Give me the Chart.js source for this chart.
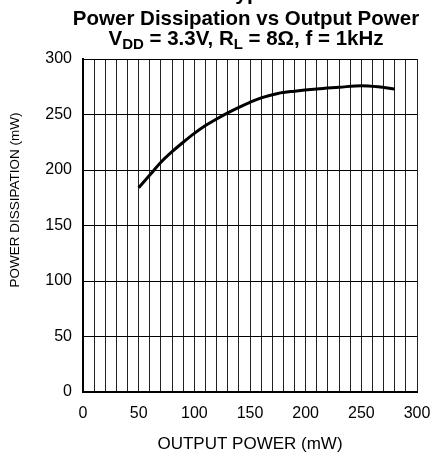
<!DOCTYPE html>
<html>
<head>
<meta charset="utf-8">
<script src="https://cdn.jsdelivr.net/npm/chart.js@4/dist/chart.umd.min.js"></script>
<style>
html,body{margin:0;padding:0;background:#fff;}
#wrap{width:432px;height:460px;position:relative;}
</style>
</head>
<body>
<div id="wrap"><canvas id="c" width="432" height="460"></canvas></div>
<script>
const outputPower = [50, 60, 70, 80, 90, 100, 110, 120, 130, 140, 150, 160, 175, 190, 210, 230, 250, 265, 280];
const powerDissipation = [184, 195.5, 207, 216.5, 225, 233, 240, 246, 251.5, 256.5, 261, 265, 269, 271, 273, 274.5, 276, 275, 273];
const xTickLabels = [0, 50, 100, 150, 200, 250, 300];
const yTickLabels = [0, 50, 100, 150, 200, 250, 300];
const titleTop = "Typical Performance Characteristics";
const titleLine1 = "Power Dissipation vs Output Power";
const titleLine2Parts = [["V", false], ["DD", true], [" = 3.3V, R", false], ["L", true], [" = 8Ω, f = 1kHz", false]];
const yAxisTitle = "POWER DISSIPATION (mW)";
const xAxisTitle = "OUTPUT POWER (mW)";

const FONT = "'Liberation Sans', Arial, sans-serif";

const titlePlugin = {
  id: 'titles',
  afterDraw(chart) {
    const ctx = chart.ctx;
    const area = chart.chartArea;
    const cx = (area.left + area.right) / 2 - 4;
    ctx.save();
    ctx.fillStyle = '#000';
    ctx.textBaseline = 'alphabetic';
    ctx.font = 'bold 21px ' + FONT;
    ctx.textAlign = 'left';
    ctx.fillText(titleTop, 224, 0);
    ctx.font = 'bold 20.5px ' + FONT;
    ctx.textAlign = 'center';
    ctx.fillText(titleLine1, cx, 25);
    // line 2 with subscripts
    const big = 'bold 20.5px ' + FONT, small = 'bold 15px ' + FONT;
    let total = 0;
    for (const [t, sub] of titleLine2Parts) { ctx.font = sub ? small : big; total += ctx.measureText(t).width; }
    let x = cx - total / 2;
    ctx.textAlign = 'left';
    for (const [t, sub] of titleLine2Parts) {
      ctx.font = sub ? small : big;
      ctx.fillText(t, x, sub ? 48.5 : 45);
      x += ctx.measureText(t).width;
    }
    // y axis title
    ctx.translate(15, 200);
    ctx.rotate(-Math.PI / 2);
    ctx.font = '13.5px ' + FONT;
    ctx.textAlign = 'center';
    ctx.textBaseline = 'middle';
    ctx.fillText(yAxisTitle, 0, 0);
    ctx.restore();
  }
};

new Chart(document.getElementById('c'), {
  type: 'scatter',
  data: {
    datasets: [{
      data: outputPower.map((x, i) => ({x, y: powerDissipation[i]})),
      showLine: true,
      borderColor: '#000',
      borderWidth: 3,
      pointRadius: 0,
      cubicInterpolationMode: 'monotone',
      fill: false
    }]
  },
  options: {
    responsive: false,
    animation: false,
    devicePixelRatio: 1,
    layout: { padding: { top: 59, right: 0, left: 0, bottom: 0 } },
    plugins: { legend: { display: false }, tooltip: { enabled: false }, title: { display: false } },
    scales: {
      x: {
        type: 'linear', min: 0, max: 300,
        afterFit(s) { s.height = 68; s.paddingRight = 15; s.paddingLeft = 0; },
        afterBuildTicks(s) { const t = []; for (let v = 0; v <= 300; v += 10) t.push({value: v}); s.ticks = t; },
        ticks: {
          autoSkip: false, maxRotation: 0, padding: 12, color: '#000',
          font: { family: FONT, size: 16 },
          callback: v => xTickLabels.includes(v) ? String(v) : ''
        },
        grid: { color: '#222', lineWidth: 1, drawTicks: false },
        border: { color: '#000', width: 2 },
        title: { display: true, text: xAxisTitle, color: '#000', font: { family: FONT, size: 17 }, padding: { top: 0, bottom: 5.5 } }
      },
      y: {
        type: 'linear', min: 0, max: 300,
        afterFit(s) { s.width = 83; },
        afterBuildTicks(s) { s.ticks = yTickLabels.map(v => ({value: v})); },
        ticks: {
          autoSkip: false, padding: 11, color: '#000',
          font: { family: FONT, size: 16 },
          callback: v => String(v)
        },
        grid: { color: '#000', lineWidth: 1, drawTicks: false },
        border: { color: '#000', width: 2 },
        title: { display: false }
      }
    }
  },
  plugins: [titlePlugin]
});
</script>
</body>
</html>
